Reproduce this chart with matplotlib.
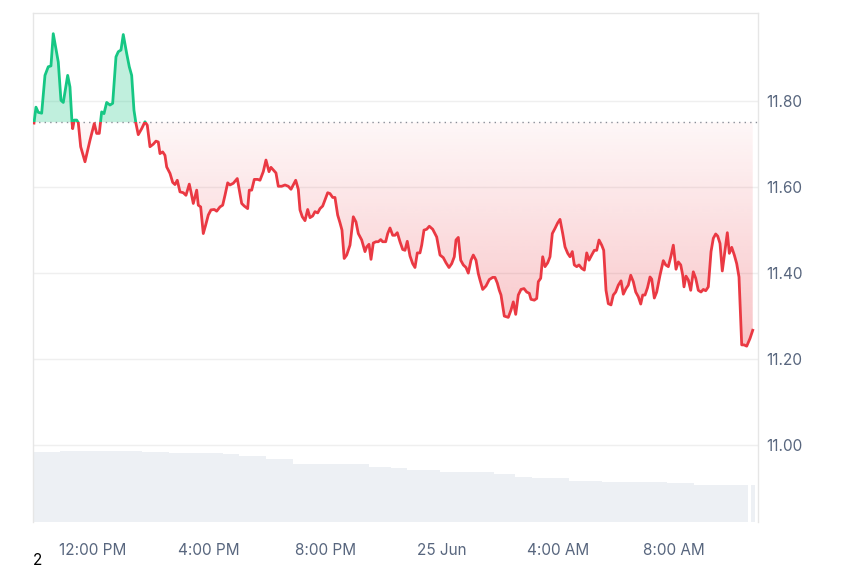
import matplotlib
matplotlib.use("Agg")
import matplotlib.pyplot as plt
import numpy as np
from matplotlib.path import Path
from matplotlib.patches import Rectangle

plt.rcParams['font.family'] = ['Inter', 'DejaVu Sans']

# hours since 12:00 PM, 24 Jun
hours = [
    -2.031, -1.962, -1.883, -1.766, -1.652, -1.539, -1.446, -1.367, -1.194, -1.102,
    -1.022, -0.871, -0.792, -0.723, -0.699, -0.644, -0.561, -0.506, -0.423, -0.275,
    -0.103, 0.045, 0.127, 0.217, 0.299, 0.379, 0.472, 0.585, 0.678, 0.792,
    0.871, 0.964, 1.043, 1.160, 1.250, 1.332, 1.411, 1.480, 1.559, 1.676,
    1.790, 1.869, 1.962, 2.076, 2.169, 2.248, 2.306, 2.399, 2.478, 2.537,
    2.651, 2.744, 2.823, 2.902, 2.995, 3.108, 3.201, 3.315, 3.373, 3.453,
    3.570, 3.625, 3.707, 3.797, 3.880, 3.969, 4.062, 4.176, 4.258, 4.372,
    4.465, 4.544, 4.637, 4.716, 4.830, 4.967, 5.036, 5.119, 5.208, 5.325,
    5.380, 5.463, 5.553, 5.670, 5.749, 5.862, 5.955, 6.059, 6.127, 6.206,
    6.299, 6.379, 6.496, 6.609, 6.723, 6.816, 6.895, 6.978, 7.067, 7.126,
    7.205, 7.298, 7.391, 7.470, 7.563, 7.642, 7.735, 7.814, 7.907, 7.986,
    8.079, 8.158, 8.251, 8.330, 8.423, 8.503, 8.571, 8.647, 8.733, 8.847,
    8.961, 9.053, 9.133, 9.250, 9.363, 9.422, 9.501, 9.570, 9.649, 9.742,
    9.821, 9.904, 9.972, 10.076, 10.145, 10.224, 10.317, 10.396, 10.475, 10.568,
    10.661, 10.740, 10.819, 10.912, 11.005, 11.084, 11.164, 11.256, 11.315, 11.394,
    11.487, 11.577, 11.694, 11.831, 11.945, 12.058, 12.151, 12.255, 12.348, 12.437,
    12.496, 12.575, 12.658, 12.747, 12.840, 12.919, 13.012, 13.091, 13.184, 13.263,
    13.322, 13.415, 13.528, 13.642, 13.759, 13.838, 13.917, 13.986, 14.045, 14.158,
    14.296, 14.389, 14.468, 14.551, 14.640, 14.733, 14.836, 14.929, 15.019, 15.077,
    15.191, 15.274, 15.329, 15.411, 15.480, 15.559, 15.652, 15.732, 15.811, 15.904,
    15.997, 16.076, 16.169, 16.248, 16.341, 16.420, 16.499, 16.568, 16.651, 16.730,
    16.823, 16.913, 16.995, 17.074, 17.167, 17.257, 17.339, 17.418, 17.511, 17.580,
    17.659, 17.738, 17.831, 17.910, 17.993, 18.083, 18.176, 18.255, 18.348, 18.427,
    18.510, 18.599, 18.682, 18.771, 18.854, 18.923, 19.002, 19.088, 19.174, 19.232,
    19.322, 19.404, 19.518, 19.632, 19.714, 19.804, 19.897, 19.976, 20.069, 20.148,
    20.231, 20.300, 20.344, 20.413, 20.492, 20.575, 20.664, 20.747, 20.836, 20.929,
    21.009, 21.091, 21.180, 21.274, 21.353, 21.435, 21.504, 21.583, 21.662, 21.756,
    21.835, 21.904, 21.986, 22.076, 22.158, 22.237, 22.330, 22.410, 22.502, 22.616,
    22.709,
]

price = [
    11.749, 11.786, 11.774, 11.772, 11.860, 11.880, 11.882, 11.957, 11.891, 11.802,
    11.797, 11.860, 11.833, 11.752, 11.736, 11.756, 11.756, 11.750, 11.694, 11.659,
    11.709, 11.748, 11.725, 11.725, 11.775, 11.771, 11.797, 11.791, 11.795, 11.903,
    11.915, 11.919, 11.955, 11.911, 11.880, 11.860, 11.779, 11.748, 11.722, 11.736,
    11.752, 11.744, 11.694, 11.700, 11.707, 11.705, 11.678, 11.682, 11.674, 11.647,
    11.632, 11.611, 11.606, 11.616, 11.589, 11.587, 11.581, 11.607, 11.589, 11.562,
    11.593, 11.558, 11.554, 11.492, 11.512, 11.535, 11.547, 11.548, 11.544, 11.554,
    11.558, 11.581, 11.610, 11.605, 11.609, 11.620, 11.593, 11.562, 11.556, 11.550,
    11.593, 11.593, 11.618, 11.618, 11.616, 11.636, 11.663, 11.636, 11.646, 11.640,
    11.633, 11.602, 11.602, 11.605, 11.602, 11.595, 11.605, 11.616, 11.595, 11.547,
    11.531, 11.522, 11.548, 11.529, 11.533, 11.543, 11.540, 11.550, 11.556, 11.570,
    11.587, 11.585, 11.576, 11.576, 11.535, 11.517, 11.500, 11.434, 11.442, 11.465,
    11.531, 11.519, 11.492, 11.477, 11.450, 11.461, 11.467, 11.432, 11.470, 11.473,
    11.473, 11.478, 11.473, 11.473, 11.492, 11.505, 11.488, 11.488, 11.494, 11.473,
    11.455, 11.453, 11.474, 11.440, 11.422, 11.413, 11.447, 11.447, 11.465, 11.500,
    11.502, 11.509, 11.502, 11.484, 11.442, 11.436, 11.424, 11.413, 11.422, 11.438,
    11.477, 11.483, 11.430, 11.419, 11.413, 11.400, 11.430, 11.442, 11.430, 11.399,
    11.384, 11.362, 11.370, 11.385, 11.390, 11.390, 11.377, 11.360, 11.349, 11.300,
    11.297, 11.314, 11.333, 11.304, 11.349, 11.362, 11.364, 11.356, 11.353, 11.339,
    11.337, 11.341, 11.380, 11.388, 11.438, 11.415, 11.424, 11.438, 11.492, 11.504,
    11.517, 11.525, 11.492, 11.461, 11.446, 11.438, 11.450, 11.419, 11.415, 11.419,
    11.411, 11.407, 11.447, 11.430, 11.442, 11.453, 11.453, 11.477, 11.465, 11.453,
    11.360, 11.329, 11.326, 11.349, 11.356, 11.372, 11.382, 11.351, 11.364, 11.372,
    11.395, 11.380, 11.356, 11.345, 11.328, 11.349, 11.349, 11.366, 11.391, 11.386,
    11.342, 11.356, 11.395, 11.429, 11.419, 11.415, 11.440, 11.465, 11.409, 11.426,
    11.419, 11.395, 11.368, 11.393, 11.384, 11.360, 11.403, 11.388, 11.360, 11.356,
    11.362, 11.359, 11.368, 11.450, 11.481, 11.491, 11.486, 11.469, 11.405, 11.453,
    11.494, 11.446, 11.460, 11.442, 11.422, 11.391, 11.233, 11.233, 11.230, 11.248,
    11.267,
]

open_price = 11.751

# rolling volume blocks (arbitrary units)
vol_left = [-2.06, -1.12, 1.68, 2.61, 4.47, 5.03, 5.96, 6.89, 9.50, 10.26,
            10.81, 11.94, 13.80, 14.53, 15.11, 16.40, 17.52, 19.76, 20.69, 22.65]
vol_right = [-1.12, 1.68, 2.61, 4.47, 5.03, 5.96, 6.89, 9.50, 10.26, 10.81,
             11.94, 13.80, 14.53, 15.11, 16.40, 17.52, 19.76, 20.69, 22.55, 22.78]
vol_values = [140.6, 142.6, 139.4, 137.4, 135.4, 132.0, 126.0, 116.0, 110.6, 108.0,
              104.0, 99.4, 95.4, 90.6, 87.4, 82.6, 80.0, 77.4, 73.4, 73.4]

tick_hours = [0, 4, 8, 12, 16, 20]
tick_labels = ['12:00 PM', '4:00 PM', '8:00 PM', '25 Jun', '4:00 AM', '8:00 AM']
y_ticks = [11.00, 11.20, 11.40, 11.60, 11.80]

green = '#16c784'
red = '#ea3943'
label_color = '#58667e'

t = np.array(hours)
p = np.array(price)

fig = plt.figure(figsize=(8.5, 5.67), dpi=100)
ax = fig.add_axes([0.0388, 0.0794, 0.853, 0.8976])
ax_vol = ax.twinx()
ax.set_zorder(ax_vol.get_zorder() + 1)
ax.patch.set_visible(False)

# volume bars
widths = [r - l for l, r in zip(vol_left, vol_right)]
ax_vol.bar(vol_left, vol_values, width=widths, align='edge', color='#edf0f4', linewidth=0)
ax_vol.set_ylim(0, 1018)
ax_vol.set_yticks([])
for s in ax_vol.spines.values():
    s.set_visible(False)

xmin, xmax = -2.065, 22.892
ymin, ymax = 10.821, 12.005
ax.set_xlim(xmin, xmax)
ax.set_ylim(ymin, ymax)

# green area above the open price
ax.fill_between(t, p, open_price, where=p >= open_price, interpolate=True,
                color=green, alpha=0.27, linewidth=0)

# red gradient area below the open price
poly = ax.fill_between(t, p, open_price, where=p <= open_price, interpolate=True,
                       color='none', linewidth=0)
clip = Path.make_compound_path(*poly.get_paths())
grad = np.zeros((256, 1, 4))
grad[:, 0, :3] = matplotlib.colors.to_rgb(red)
grad[:, 0, 3] = np.linspace(0.30, 0.04, 256)
img = ax.imshow(grad, extent=[t[0], t[-1], p.min(), open_price], origin='lower',
                aspect='auto', interpolation='bilinear', zorder=1)
img.set_clip_path(clip, transform=ax.transData)

# price line, coloured by side of the open price
above = Rectangle((xmin, open_price), xmax - xmin, ymax - open_price, transform=ax.transData)
below = Rectangle((xmin, ymin), xmax - xmin, open_price - ymin, transform=ax.transData)
lg, = ax.plot(t, p, color=green, lw=2.0, zorder=3, solid_joinstyle='round')
lg.set_clip_path(above)
lr, = ax.plot(t, p, color=red, lw=2.0, zorder=3, solid_joinstyle='round')
lr.set_clip_path(below)

ax.axhline(open_price, color='#8a8f98', lw=1.0, linestyle=(0, (1, 3)), zorder=2)

# axes styling
ax.set_yticks(y_ticks)
ax.set_yticklabels([f'{v:.2f}' for v in y_ticks])
ax.yaxis.tick_right()
ax.set_xticks(tick_hours)
ax.set_xticklabels(tick_labels)
ax.tick_params(axis='both', length=0, labelsize=11, labelcolor=label_color)
ax.tick_params(axis='x', pad=15)
ax.tick_params(axis='y', pad=6)
ax.grid(axis='y', color='#efefef', lw=1)
ax.set_axisbelow(True)
for name, s in ax.spines.items():
    s.set_color('#e6e6e6')
    s.set_linewidth(1)
ax.spines['bottom'].set_visible(False)

fig.text(0.039, 0.011, '2', fontsize=11, color='black', va='center', ha='left')

fig.savefig('out.png', dpi=100)
